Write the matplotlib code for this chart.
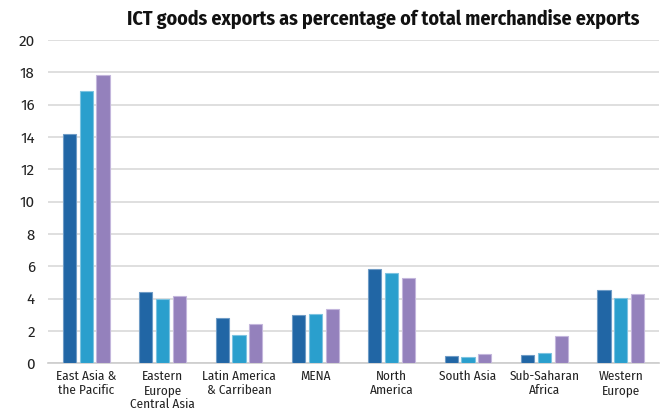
import numpy as np
import matplotlib
matplotlib.use("Agg")
import matplotlib.pyplot as plt

# Regions on the x axis
regions = ["East Asia &\nthe Pacific", "Eastern\nEurope\nCentral Asia",
           "Latin America\n& Carribean", "MENA", "North\nAmerica",
           "South Asia", "Sub-Saharan\nAfrica", "Western\nEurope"]

# ICT goods exports, % of total merchandise exports (three periods)
series_a = [14.2, 4.4, 2.8, 3.0, 5.85, 0.47, 0.52, 4.55]
series_b = [16.85, 4.0, 1.75, 3.05, 5.6, 0.38, 0.62, 4.05]
series_c = [17.85, 4.15, 2.42, 3.35, 5.27, 0.58, 1.7, 4.3]

y_ticks = [0, 2, 4, 6, 8, 10, 12, 14, 16, 18, 20]

colors = ["#2166a5", "#2a9fcd", "#9481bc"]
edges = ["#6f9cc6", "#7cc3e0", "#c3b6dc"]

plt.rcParams["font.family"] = ["Fira Sans Condensed", "DejaVu Sans"]

fig = plt.figure(figsize=(6.68, 4.17), dpi=100)
ax = fig.add_axes([0.0719, 0.1288, 0.9146, 0.7752])

x = np.arange(len(regions))
step = 0.22
width = 0.172
for i, vals in enumerate([series_a, series_b, series_c]):
    ax.bar(x + (i - 1) * step, vals, width, color=colors[i],
           edgecolor=edges[i], linewidth=0.8, zorder=3)

ax.set_xlim(-0.5, len(regions) - 0.5)
ax.set_ylim(0, 20)
ax.set_yticks(y_ticks)
ax.set_xticks(x)
ax.set_xticklabels(regions, fontsize=9.5, color="#222222", linespacing=1.17)
ax.tick_params(axis="x", length=0, pad=5)
ax.tick_params(axis="y", length=0, pad=9.5, labelcolor="#222222")
for lbl in ax.get_yticklabels():
    lbl.set_fontfamily(["Fira Sans", "DejaVu Sans"])
    lbl.set_fontsize(11)

ax.grid(axis="y", color="#d9d9d9", linewidth=1.2, zorder=0)
for s in ["top", "right", "left"]:
    ax.spines[s].set_visible(False)
ax.spines["bottom"].set_color("#cccccc")
ax.spines["bottom"].set_linewidth(1.2)

fig.text(0.958, 0.955, "ICT goods exports as percentage of total merchandise exports",
         ha="right", va="center", fontsize=14.3, fontweight="bold", color="#111111")

fig.savefig("out.png", dpi=100)
